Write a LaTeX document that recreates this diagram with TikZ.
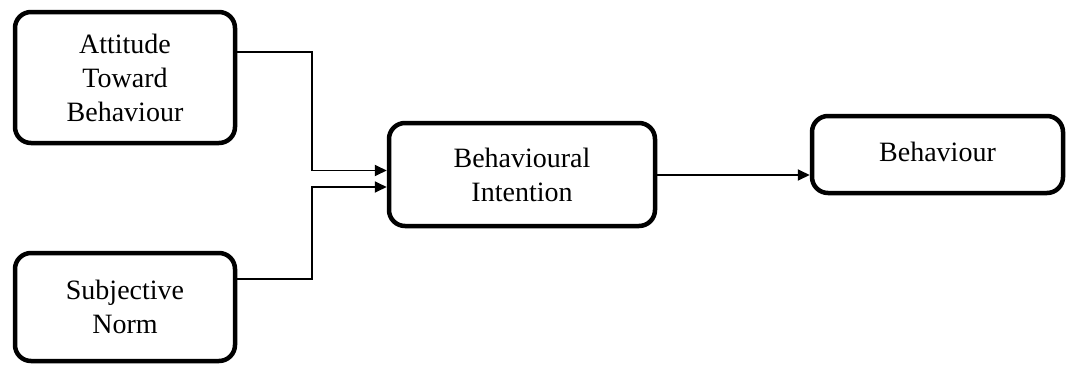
\documentclass[tikz,border=0pt]{standalone}
\usepackage{fontspec}
\setmainfont{Liberation Serif}
\usetikzlibrary{arrows.meta}
\begin{document}
\begin{tikzpicture}[x=1pt,y=-1pt,
  box/.style={draw=black, line width=4.5pt, rounded corners=16pt, rectangle, align=center,
    inner sep=0pt, font=\fontsize{28}{34}\selectfont, fill=white},
  conn/.style={draw=black, line width=1.8pt, -{Triangle[length=12pt,width=11pt]}}]
\useasboundingbox (0,0) rectangle (1067,367);
\node[box, minimum width=220pt, minimum height=131pt] (b1) at (125,77.5) {Attitude\\Toward\\Behaviour};
\node[box, minimum width=220pt, minimum height=108pt] (b2) at (125,307) {Subjective\\Norm};
\node[box, minimum width=266pt, minimum height=103pt] (b3) at (522,174.5) {Behavioural\\Intention};
\node[box, minimum width=251pt, minimum height=77pt] (b4) at (937.5,154.5) {\raisebox{5pt}{Behaviour}};
\coordinate (j1) at (312,170.5);
\coordinate (j2) at (312,187);
\draw[conn] ([yshift=25.5pt]b1.east) -| (j1) -- ([yshift=4pt]b3.west);
\draw[conn] ([yshift=28pt]b2.east) -| (j2) -- ([yshift=-12.5pt]b3.west);
\draw[conn] ([yshift=-0.5pt]b3.east) -- ([yshift=-20.5pt]b4.west);
\end{tikzpicture}
\end{document}
